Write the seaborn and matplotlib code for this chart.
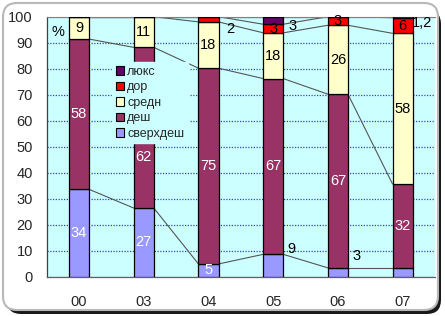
import numpy as np
import pandas as pd
import matplotlib
matplotlib.use("Agg")
import matplotlib.pyplot as plt
import seaborn as sns
from matplotlib.patches import FancyBboxPatch, Patch

# ---- data ----
years = ['00', '03', '04', '05', '06', '07']
series = ['люкс', 'дор', 'средн', 'деш', 'сверхдеш']   # legend order (top -> bottom)
sverkhdesh = [33.6, 26.4, 4.9, 8.6, 3.4, 3.4]
desh = [57.8, 61.8, 75.3, 67.6, 66.8, 32.2]
sredn = [8.6, 11.8, 17.8, 17.6, 26.5, 58.0]
dor = [0.0, 0.0, 2.0, 3.3, 3.3, 6.0]
lyuks = [0.0, 0.0, 0.0, 2.9, 0.0, 1.2]
lab_sverkhdesh = ['34', '27', '5', '9', '3', '']
lab_desh = ['58', '62', '75', '67', '67', '32']
lab_sredn = ['9', '11', '18', '18', '26', '58']
lab_dor = ['', '', '2', '3', '3', '6']
lab_lyuks = ['', '', '', '3', '', '1,2']

values = {'сверхдеш': sverkhdesh, 'деш': desh, 'средн': sredn, 'дор': dor, 'люкс': lyuks}
labels = {'сверхдеш': lab_sverkhdesh, 'деш': lab_desh, 'средн': lab_sredn,
          'дор': lab_dor, 'люкс': lab_lyuks}
colors = {'люкс': '#660066', 'дор': '#ff0000', 'средн': '#ffffcc',
          'деш': '#993366', 'сверхдеш': '#9999ff'}
stack_order = ['сверхдеш', 'деш', 'средн', 'дор', 'люкс']  # bottom -> top

rows = []
for s in series:
    for i, v in enumerate(values[s]):
        rows.append({'x': i, 'series': s, 'value': v})
df = pd.DataFrame(rows)

# ---- figure ----
sns.set_style("white")
plt.rcParams['font.family'] = ['Liberation Sans', 'DejaVu Sans']
W, H = 445, 316
fig = plt.figure(figsize=(W / 100, H / 100), dpi=100)
fig.patch.set_facecolor('white')

def px(x, y):
    return x / 100, (H - y) / 100

# frame with shadow
shadow = FancyBboxPatch(px(7, 314), (438 - 4) / 100, (310 - 6) / 100,
                        boxstyle="round,pad=0,rounding_size=0.14",
                        transform=fig.dpi_scale_trans, facecolor='#1a1a1a',
                        edgecolor='none', zorder=-3)
frame = FancyBboxPatch(px(3, 310), (438 - 3) / 100, (310 - 3) / 100,
                       boxstyle="round,pad=0,rounding_size=0.14",
                       transform=fig.dpi_scale_trans, facecolor='white',
                       edgecolor='#b8b8b8', linewidth=1.5, zorder=-2)
fig.add_artist(shadow)
fig.add_artist(frame)

ax = fig.add_axes([46.7 / W, 1 - 276.7 / H, (435 - 46.7) / W, (276.7 - 16.7) / H])
ax.set_zorder(2)
ax.set_facecolor('#ccffff')

bw = 0.31
sns.histplot(data=df, x='x', hue='series', weights='value', multiple='stack',
             discrete=True, shrink=bw, hue_order=series, palette=colors,
             edgecolor='black', linewidth=0.9, alpha=1, legend=False, ax=ax, zorder=3)

# series lines connecting segment tops
cum = np.zeros(len(years))
tops = {}
for s in stack_order:
    cum = cum + np.array(values[s])
    tops[s] = cum.copy()
for s in stack_order:
    for i in range(len(years) - 1):
        ax.plot([i + bw / 2, i + 1 - bw / 2], [tops[s][i], tops[s][i + 1]],
                color='#555555', lw=0.8, zorder=2.5)

# data labels
overrides = {('сверхдеш', 3): (0.28, 10.7), ('сверхдеш', 4): (0.28, 8.1),
             ('дор', 2): (0.33, 95.3), ('люкс', 3): (0.30, 96.5),
             ('люкс', 5): (0.30, 97.5), ('деш', 1): (0.0, 46.0)}
for s in stack_order:
    for i, lab in enumerate(labels[s]):
        if not lab:
            continue
        bottom = tops[s][i] - values[s][i]
        xx, yy = i, (bottom + min(tops[s][i], 100)) / 2
        outside = False
        if (s, i) in overrides:
            dx, yy = overrides[(s, i)]
            xx = i + dx
            outside = dx != 0
        col = 'white' if (s in ('деш', 'сверхдеш') and not outside) else 'black'
        ax.text(xx, yy, lab, ha='center', va='center', fontsize=10.5, color=col, zorder=5)
ax.text(-0.33, 94.1, '%', ha='center', va='center', fontsize=10.5, color='black', zorder=5)

# axes styling
ax.set_xlim(-0.5, 5.5)
ax.set_ylim(0, 100)
ax.set_yticks(range(0, 101, 10))
ax.set_xticks(range(len(years)))
ax.set_xticklabels(years)
ax.set_xticks(np.arange(-0.5, 6, 1), minor=True)
ax.tick_params(axis='x', which='major', length=0, pad=13, labelsize=10.5)
ax.tick_params(axis='x', which='minor', length=4, direction='out', color='#606060', width=0.8)
ax.tick_params(axis='y', length=4, direction='out', color='#404040', width=0.8, pad=6, labelsize=10.5)
ax.set_xlabel('')
ax.set_ylabel('')
ax.yaxis.grid(True, color='#3a3aff', linestyle=(0, (1, 1.2)), linewidth=0.9)
ax.xaxis.grid(False)
ax.set_axisbelow(True)
ax.spines['right'].set_visible(False)
ax.spines['top'].set_color('#808080')
ax.spines['top'].set_linewidth(0.8)
ax.spines['left'].set_color('#404040')
ax.spines['left'].set_linewidth(0.9)
ax.spines['bottom'].set_color('#606060')
ax.spines['bottom'].set_linewidth(0.9)

handles = [Patch(facecolor=colors[s], edgecolor='black', linewidth=0.8, label=s) for s in series]
leg = ax.legend(handles=handles, loc='upper left', bbox_to_anchor=(112 / W, 1 - 62 / H),
                bbox_transform=fig.transFigure, fontsize=9, frameon=True,
                facecolor='#ccffff', edgecolor='#ccffff', framealpha=1, fancybox=False,
                handlelength=0.65, handleheight=0.65, handletextpad=0.25,
                labelspacing=0.28, borderpad=0.3, borderaxespad=0)
leg.set_zorder(10)

fig.savefig('out.png', dpi=100, facecolor='white')
